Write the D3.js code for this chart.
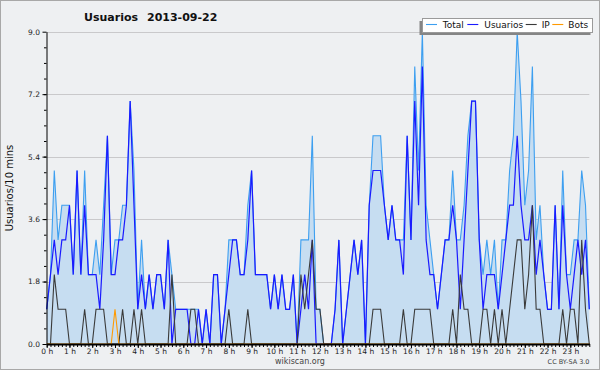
<!DOCTYPE html>
<html><head><meta charset="utf-8">
<script src="https://cdn.jsdelivr.net/npm/d3@7/dist/d3.min.js"></script>
<style>
html,body{margin:0;padding:0;background:#fff;}
svg{display:block;}
text{font-family:"DejaVu Sans",sans-serif;}
</style></head><body>
<svg id="c" width="600" height="370"></svg>
<script>
// ---- data (10-minute slots, 144 per day) ----
const hourLabels = ["0 h","1 h","2 h","3 h","4 h","5 h","6 h","7 h","8 h","9 h","10 h","11 h",
  "12 h","13 h","14 h","15 h","16 h","17 h","18 h","19 h","20 h","21 h","22 h","23 h"];
const yTickValues = [0, 1.8, 3.6, 5.4, 7.2, 9.0];
const seriesNames = ["Total", "Usuarios", "IP", "Bots"];

const total = [
  1,2,5,3,4,4,4,2,5,2, 5,2,2,3,2,4,6,2,3,3, 4,4,7,5,1,3,1,2,1,2,
  2,1,3,2,1,1,1,1,1,1, 1,0,1,0,2,2,0,1,3,3, 3,2,2,4,5,2,2,2,2,1,
  2,1,2,1,1,2,0,3,3,3, 6,1,1,0,0,0,1,3,0,1, 2,3,2,3,0,4,6,6,6,4,
  3,4,3,3,3,6,3,8,5,9, 4,3,2,1,2,3,3,5,3,3, 4,6,7,7,3,2,3,2,3,1,
  3,3,5,6,9,7,4,5,8,3, 4,2,1,1,4,1,5,2,2,3, 3,5,4,1];
const usuarios = [
  1,2,3,2,3,3,4,2,5,2, 4,2,2,2,1,3,6,2,2,3, 3,4,7,4,1,2,1,2,1,2,
  2,1,3,0,1,1,1,1,0,0, 1,0,1,0,2,2,0,1,2,3, 3,2,2,3,5,2,2,2,2,1,
  2,1,2,1,1,2,0,1,2,1, 3,0,0,0,0,0,1,3,0,1, 2,3,2,3,0,4,5,5,5,4,
  3,4,3,3,2,6,3,7,4,8, 3,2,2,1,2,3,3,4,3,1, 3,5,7,7,3,1,2,2,2,1,
  2,3,4,4,6,4,3,3,4,2, 3,2,1,1,4,1,4,2,1,2, 3,2,3,1];
const ip = [
  0,0,2,1,1,1,0,0,0,0, 1,0,0,1,1,1,0,0,0,0, 1,0,0,1,0,1,0,0,0,0,
  0,0,0,2,0,0,0,0,1,1, 0,0,0,0,0,0,0,0,1,0, 0,0,0,1,0,0,0,0,0,0,
  0,0,0,0,0,0,0,2,1,2, 3,1,1,0,0,0,0,0,0,0, 0,0,0,0,0,0,1,1,1,0,
  0,0,0,0,1,0,0,1,1,1, 1,1,0,0,0,0,0,1,0,2, 1,1,0,0,0,1,1,0,1,0,
  1,0,1,2,3,3,1,2,4,1, 1,0,0,0,0,0,1,0,1,1, 0,3,1,0];
const bots = [
  0,0,0,0,0,0,0,0,0,0, 0,0,0,0,0,0,0,0,1,0, 0,0,0,0,0,0,0,0,0,0,
  0,0,0,0,0,0,0,0,0,0, 0,0,0,0,0,0,0,0,0,0, 0,0,0,0,0,0,0,0,0,0,
  0,0,0,0,0,0,0,0,0,0, 0,0,0,0,0,0,0,0,0,0, 0,0,0,0,0,0,0,0,0,0,
  0,0,0,0,0,0,0,0,0,0, 0,0,0,0,0,0,0,0,0,0, 0,0,0,0,0,0,0,0,0,0,
  0,0,0,0,0,0,0,0,0,0, 0,0,0,0,0,0,0,0,0,0, 0,0,0,0];

// ---- drawing ----
const svg = d3.select("#c");
const W = 600, H = 370;
const colTotal = "#3d9ff0", colFill = "#c6ddf1", colUsers = "#1a1aff", colIP = "#3a3a3a", colBots = "#ff9a00";

svg.append("rect").attr("x",0.5).attr("y",0.5).attr("width",W-1).attr("height",H-1)
  .attr("fill","#eef0f2").attr("stroke","#a8a8a8");

const x = d3.scaleLinear().domain([0, total.length - 1]).range([46.7, 589.3]);
const y = d3.scaleLinear().domain([0, 9]).range([344, 31.7]);

// grid
svg.append("g").selectAll("line").data(yTickValues.filter(v => v > 0)).join("line")
  .attr("x1", x(0)).attr("x2", x(total.length - 1))
  .attr("y1", d => Math.round(y(d)) + 0.5).attr("y2", d => Math.round(y(d)) + 0.5)
  .attr("stroke", "#c9c9cb").attr("stroke-width", 1);

// area + lines
const idx = d3.range(total.length);
svg.append("path").datum(idx)
  .attr("d", d3.area().x(i => x(i)).y0(y(0)).y1(i => y(total[i])))
  .attr("fill", colFill);
const line = arr => d3.line().x(i => x(i)).y(i => y(arr[i]));
svg.append("path").datum(idx).attr("d", line(total)).attr("fill","none").attr("stroke",colTotal).attr("stroke-width",1.1);
svg.append("path").datum(idx).attr("d", line(usuarios)).attr("fill","none").attr("stroke",colUsers).attr("stroke-width",1.2);
svg.append("path").datum(idx).attr("d", line(ip)).attr("fill","none").attr("stroke",colIP).attr("stroke-width",1.1);
svg.append("path").datum(idx).attr("d", line(bots)).attr("fill","none").attr("stroke",colBots).attr("stroke-width",1.1);

// y axis
const yAxis = svg.append("g").attr("transform", "translate(46.5,0)")
  .call(d3.axisLeft(y).tickValues(yTickValues).tickFormat(d => d.toFixed(1)).tickSize(4).tickSizeOuter(0).tickPadding(2.5));
svg.append("g").attr("transform", "translate(46.5,0)")
  .call(d3.axisLeft(y).tickValues(d3.range(0, 20).map(k => k * 0.45)).tickFormat("").tickSize(2.5).tickSizeOuter(0))
  .select(".domain").remove();
yAxis.selectAll("text").attr("font-size", 7.5).attr("font-family", "DejaVu Sans").attr("fill", "#222");

// x axis
const hourIdx = hourLabels.map((_, h) => h * 6);
const xAxis = svg.append("g").attr("transform", "translate(0,344)")
  .call(d3.axisBottom(x).tickValues(hourIdx).tickFormat((d, k) => hourLabels[k]).tickSize(4).tickSizeOuter(0).tickPadding(0.5));
xAxis.select(".domain").attr("stroke-width", 2);
xAxis.selectAll("text").attr("font-size", 7.5).attr("font-family", "DejaVu Sans").attr("fill", "#222");
svg.append("g").attr("transform", "translate(0,344)")
  .call(d3.axisBottom(x).tickValues(idx).tickFormat("").tickSize(3).tickSizeOuter(0))
  .select(".domain").remove();

// titles
svg.append("text").attr("x", 84).attr("y", 20.8).attr("font-size", 11).attr("font-weight", "bold").attr("fill", "#111").text("Usuarios");
svg.append("text").attr("x", 147).attr("y", 20.8).attr("font-size", 11).attr("font-weight", "bold").attr("fill", "#111").text("2013-09-22");
svg.append("text").attr("transform", "translate(12.5,188) rotate(-90)").attr("text-anchor", "middle")
  .attr("font-family", "DejaVu Sans Mono").attr("font-size", 10).attr("fill", "#111").text("Usuarios/10 mins");
svg.append("text").attr("x", 300).attr("y", 363.5).attr("text-anchor", "middle").attr("font-size", 8).attr("fill", "#444").text("wikiscan.org");
svg.append("text").attr("x", 589.5).attr("y", 364).attr("text-anchor", "end").attr("font-size", 6.5).attr("fill", "#444").text("CC BY-SA 3.0");

// legend
const lg = svg.append("g");
lg.append("rect").attr("x", 419.5).attr("y", 21).attr("width", 171).attr("height", 14).attr("fill", "#858585");
lg.append("rect").attr("x", 422.5).attr("y", 18.5).attr("width", 170).attr("height", 14).attr("fill", "#fff").attr("stroke", "#9a9a9a");
const legCols = [colTotal, colUsers, colIP, colBots];
const legLineX = [426, 467.3, 525.7, 552.3];
const legTextX = [442.7, 484.3, 541.7, 568.3];
seriesNames.forEach((n, k) => {
  lg.append("line").attr("x1", legLineX[k]).attr("x2", legLineX[k] + 11).attr("y1", 24.5).attr("y2", 24.5)
    .attr("stroke", legCols[k]).attr("stroke-width", 1.1);
  lg.append("text").attr("x", legTextX[k]).attr("y", 28.3).attr("font-size", 9).attr("fill", "#111").text(n);
});
</script>
</body></html>
